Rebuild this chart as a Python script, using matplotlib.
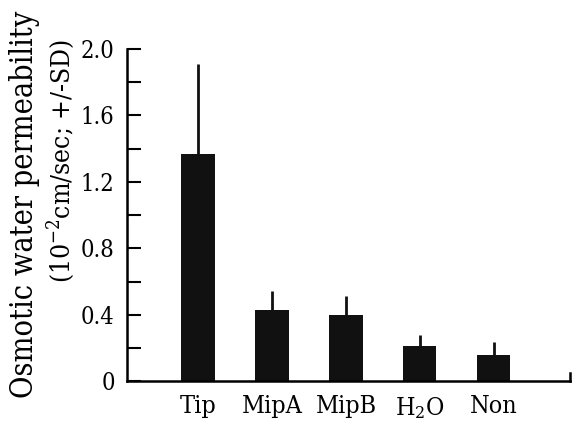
import matplotlib
matplotlib.use("Agg")
from matplotlib import pyplot as plt
import numpy as np

categories = ["Tip", "MipA", "MipB", "H$_2$O", "Non"]
means = [1.37, 0.43, 0.40, 0.21, 0.16]
sds = [0.54, 0.11, 0.11, 0.07, 0.075]
yticks = [0, 0.4, 0.8, 1.2, 1.6, 2.0]
yticklabels = ["0", "0.4", "0.8", "1.2", "1.6", "2.0"]

plt.rcParams["font.family"] = "DejaVu Serif"
plt.rcParams["font.stretch"] = "condensed"
plt.rcParams["mathtext.fontset"] = "dejavuserif"

fig = plt.figure(figsize=(5.78, 4.25), dpi=100)
ax = fig.add_axes([0.22, 0.103, 0.766, 0.782])

x = np.arange(len(categories))
ax.bar(x, means, width=0.45, color="#111111")
ax.errorbar(x, means, yerr=[np.zeros(len(sds)), sds], fmt="none",
            ecolor="#111111", elinewidth=2, capsize=0)

ax.set_xlim(-0.96, 5.03)
ax.set_ylim(0, 2.0)
ax.set_yticks(yticks)
ax.set_yticklabels(yticklabels)
ax.set_yticks(np.arange(0.2, 2.0, 0.4), minor=True)
ax.tick_params(axis="y", which="both", direction="in", length=10, width=1.5,
               labelsize=17, pad=9)
ax.set_xticks(x)
ax.set_xticklabels(categories, fontsize=18)
ax.tick_params(axis="x", length=0, pad=10)

ax.spines["top"].set_visible(False)
ax.spines["right"].set_bounds(0, 0.05)
for s in ["left", "bottom", "right"]:
    ax.spines[s].set_linewidth(1.8)

fig.text(0.042, 0.52, "Osmotic water permeability", rotation=90,
         ha="center", va="center", fontsize=22)
fig.text(0.105, 0.622, "(10$^{-2}$cm/sec; +/-SD)", rotation=90,
         ha="center", va="center", fontsize=19)

fig.savefig("out.png", dpi=100)
